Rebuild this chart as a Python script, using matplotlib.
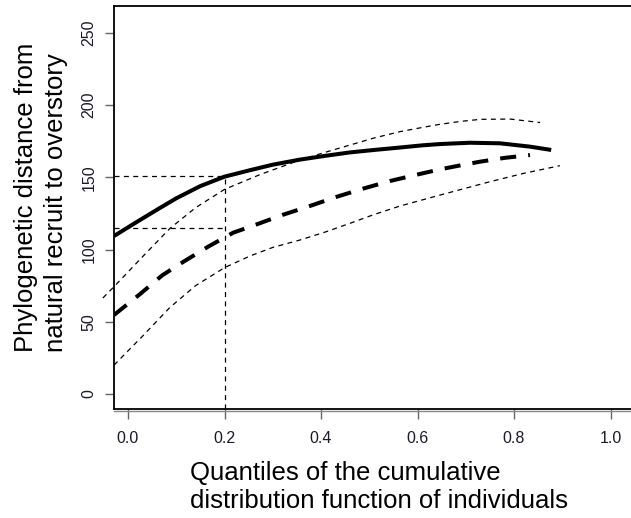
import matplotlib
matplotlib.use('Agg')
import matplotlib.pyplot as plt

plt.rcParams['font.family'] = ['Liberation Sans', 'DejaVu Sans']

# fitted curve: natural recruits
q_fit = [-0.029, 0.02, 0.066, 0.1, 0.15, 0.2, 0.253, 0.3, 0.356, 0.41, 0.46, 0.51,
         0.564, 0.61, 0.647, 0.709, 0.771, 0.833, 0.877]
d_fit = [109.4, 119.5, 128.8, 135.5, 144.0, 150.5, 155.0, 158.8, 162.3, 165.0, 167.3,
         169.0, 170.7, 172.2, 173.1, 174.0, 173.6, 171.3, 169.0]

# fitted curve: second group (thick dashed)
q_alt = [-0.029, 0.025, 0.071, 0.115, 0.166, 0.218, 0.267, 0.32, 0.377, 0.43, 0.487,
         0.543, 0.6, 0.647, 0.69, 0.73, 0.78, 0.833]
d_alt = [54.7, 69.2, 82.2, 91.6, 102.0, 111.7, 117.5, 124.0, 130.2, 136.3, 142.2,
         147.5, 152.0, 155.6, 158.4, 160.9, 163.5, 165.5]

# confidence band, upper and lower
q_up = [-0.052, -0.029, 0.03, 0.087, 0.14, 0.2, 0.274, 0.356, 0.41, 0.46, 0.51,
        0.564, 0.61, 0.647, 0.69, 0.73, 0.792, 0.854]
d_up = [66.5, 74.3, 95.0, 114.7, 129.0, 141.7, 152.0, 162.0, 167.5, 172.4, 177.3,
        181.7, 184.6, 186.8, 188.8, 190.2, 190.4, 188.0]
q_lo = [-0.029, 0.03, 0.087, 0.14, 0.2, 0.253, 0.3, 0.356, 0.41, 0.46, 0.51, 0.564,
        0.647, 0.75, 0.82, 0.895]
d_lo = [20.0, 40.0, 60.0, 75.0, 87.5, 95.6, 101.5, 106.6, 112.3, 118.2, 124.3, 130.2,
        137.8, 147.0, 152.8, 158.1]

q_ref = 0.2
d_ref = [151.0, 115.0]

xticks = [0.0, 0.2, 0.4, 0.6, 0.8, 1.0]
yticks = [0, 50, 100, 150, 200, 250]

W, H = 631, 518
fig = plt.figure(figsize=(W / 100, H / 100), dpi=100)
x0, x1, y0, y1 = 114, 639.5, 6, 409
ax = fig.add_axes([x0 / W, 1 - y1 / H, (x1 - x0) / W, (y1 - y0) / H])
ax.set_xlim(-0.029, 1.06)
ax.set_ylim(-10.4, 268.7)

thin = dict(color='black', lw=0.9, dashes=(4, 3.5))
ax.plot(q_up, d_up, clip_on=False, **thin)
ax.plot(q_lo, d_lo, **thin)
ax.plot(q_alt, d_alt, color='black', lw=2.9, dashes=(4, 3), solid_capstyle='butt')
ax.plot(q_fit, d_fit, color='black', lw=2.9, solid_capstyle='butt')

ax.plot([q_ref, q_ref], [-10.4, d_ref[0]], **thin)
for d in d_ref:
    ax.plot([-0.029, q_ref], [d, d], **thin)

for s in ax.spines.values():
    s.set_linewidth(1.3)
# axis line drawn just under the box
ax.plot([0, 1], [-0.006, -0.006], transform=ax.transAxes, color='#888888',
        lw=1.0, clip_on=False)

ax.set_xticks(xticks)
ax.set_xticklabels([f'{t:.1f}' for t in xticks])
ax.set_yticks(yticks)
ax.set_yticklabels([str(t) for t in yticks], rotation=90, va='center')
ax.tick_params(axis='x', direction='out', length=7, width=1, color='#666666',
               pad=9, labelsize=11.5, labelcolor='#1a1a2a')
ax.tick_params(axis='y', direction='out', length=6.5, width=1, color='#666666',
               pad=6, labelsize=11.5, labelcolor='#1a1a2a')

fig.text(190 / W, 1 - 461 / H,
         'Quantiles of the cumulative\ndistribution function of individuals',
         fontsize=18.5, ha='left', va='top', multialignment='left',
         linespacing=1.2)
fig.text(14 / W, 1 - 352 / H,
         'Phylogenetic distance from\nnatural recruit to overstory',
         fontsize=18.5, rotation=90, ha='left', va='bottom',
         multialignment='left', linespacing=1.3)

fig.savefig('out.png', dpi=100)
